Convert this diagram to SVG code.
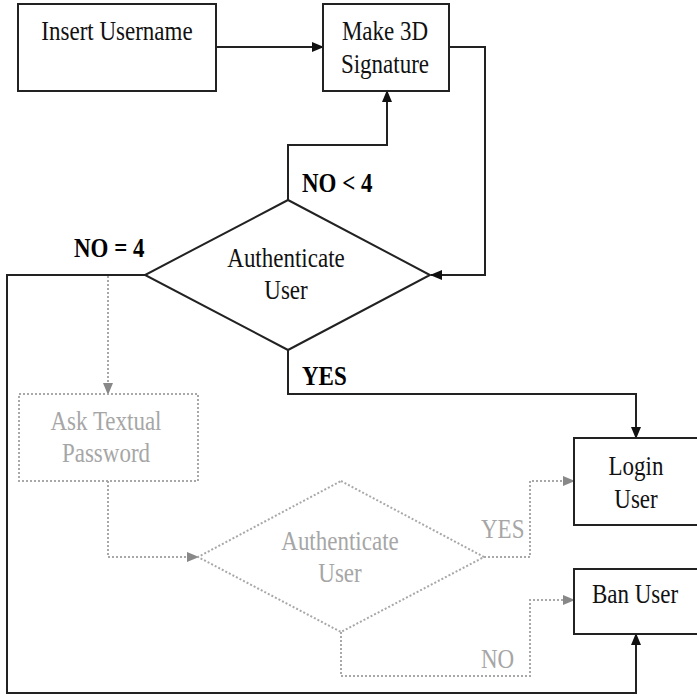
<svg xmlns="http://www.w3.org/2000/svg" width="697" height="696" viewBox="0 0 697 696">
<style>
.box{fill:#fff;stroke:#222;stroke-width:2}
.dbox{fill:none;stroke:#a8a8a8;stroke-width:2;stroke-dasharray:2,2}
.t{font-family:"Liberation Serif","Times New Roman",serif;font-size:23px;fill:#111;text-anchor:middle}
.g{fill:#a6a6a6}
.b{font-weight:bold;text-anchor:start}
.s{font-family:"Liberation Serif","Times New Roman",serif;font-size:23px;text-anchor:start}
.ln{fill:none;stroke:#222;stroke-width:2}
.dl{fill:none;stroke:#a8a8a8;stroke-width:2;stroke-dasharray:2,2}
</style>
<defs>
<marker id="ab" markerUnits="userSpaceOnUse" markerWidth="12" markerHeight="12" refX="11" refY="6" orient="auto"><path d="M0,1 L12,6 L0,11 z" fill="#111"/></marker>
<marker id="ag" markerUnits="userSpaceOnUse" markerWidth="12" markerHeight="12" refX="11" refY="6" orient="auto"><path d="M0,1 L12,6 L0,11 z" fill="#888"/></marker>
</defs>
<g id="connectors">
<path class="ln" d="M216,47 H323" marker-end="url(#ab)"/>
<path class="ln" d="M449,47 H485 V275 H431" marker-end="url(#ab)"/>
<path class="ln" d="M288,200 V145 H387 V91" marker-end="url(#ab)"/>
<path class="ln" d="M145,275 H7 V693 H636 V634" marker-end="url(#ab)"/>
<path class="ln" d="M288,350 V394 H636 V438" marker-end="url(#ab)"/>
<path class="dl" d="M108,276 V394" marker-end="url(#ag)"/>
<path class="dl" d="M108,481 V557 H198" marker-end="url(#ag)"/>
<path class="dl" d="M484,557 H530 V481 H574" marker-end="url(#ag)"/>
<path class="dl" d="M341,632 V676 H530 V600 H574" marker-end="url(#ag)"/>
<text class="s b" transform="translate(302,192) scale(1,1.2)">NO &lt; 4</text>
<text class="s b" transform="translate(74,257) scale(1,1.2)">NO = 4</text>
<text class="s b" transform="translate(302,385) scale(1,1.2)">YES</text>
<text class="s g" transform="translate(481,538) scale(1,1.2)">YES</text>
<text class="s g" transform="translate(481,668) scale(1,1.2)">NO</text>
</g>
<g id="insert-username">
<rect class="box" x="18" y="4" width="198" height="87"/>
<text class="t" transform="translate(117,40) scale(1,1.2)">Insert Username</text>
</g>
<g id="make-3d-signature">
<rect class="box" x="323" y="4" width="126" height="87"/>
<text class="t" transform="translate(385,40) scale(1,1.2)">Make 3D</text>
<text class="t" transform="translate(385,73) scale(1,1.2)">Signature</text>
</g>
<g id="authenticate-user">
<polygon class="box" points="288,200 430,275 288,350 145,275"/>
<text class="t" transform="translate(286,267) scale(1,1.2)">Authenticate</text>
<text class="t" transform="translate(286,299) scale(1,1.2)">User</text>
</g>
<g id="ask-textual-password">
<rect class="dbox" x="19" y="394" width="179" height="87"/>
<text class="t g" transform="translate(106,430) scale(1,1.2)">Ask Textual</text>
<text class="t g" transform="translate(106,462) scale(1,1.2)">Password</text>
</g>
<g id="authenticate-user-2">
<polygon class="dbox" points="341,481 484,557 341,632 198,557"/>
<text class="t g" transform="translate(340,550) scale(1,1.2)">Authenticate</text>
<text class="t g" transform="translate(340,582) scale(1,1.2)">User</text>
</g>
<g id="login-user">
<rect class="box" x="574" y="438" width="130" height="87"/>
<text class="t" transform="translate(636,475) scale(1,1.2)">Login</text>
<text class="t" transform="translate(636,508) scale(1,1.2)">User</text>
</g>
<g id="ban-user">
<rect class="box" x="574" y="569" width="130" height="65"/>
<text class="t" transform="translate(635,603) scale(1,1.2)">Ban User</text>
</g>
</svg>
